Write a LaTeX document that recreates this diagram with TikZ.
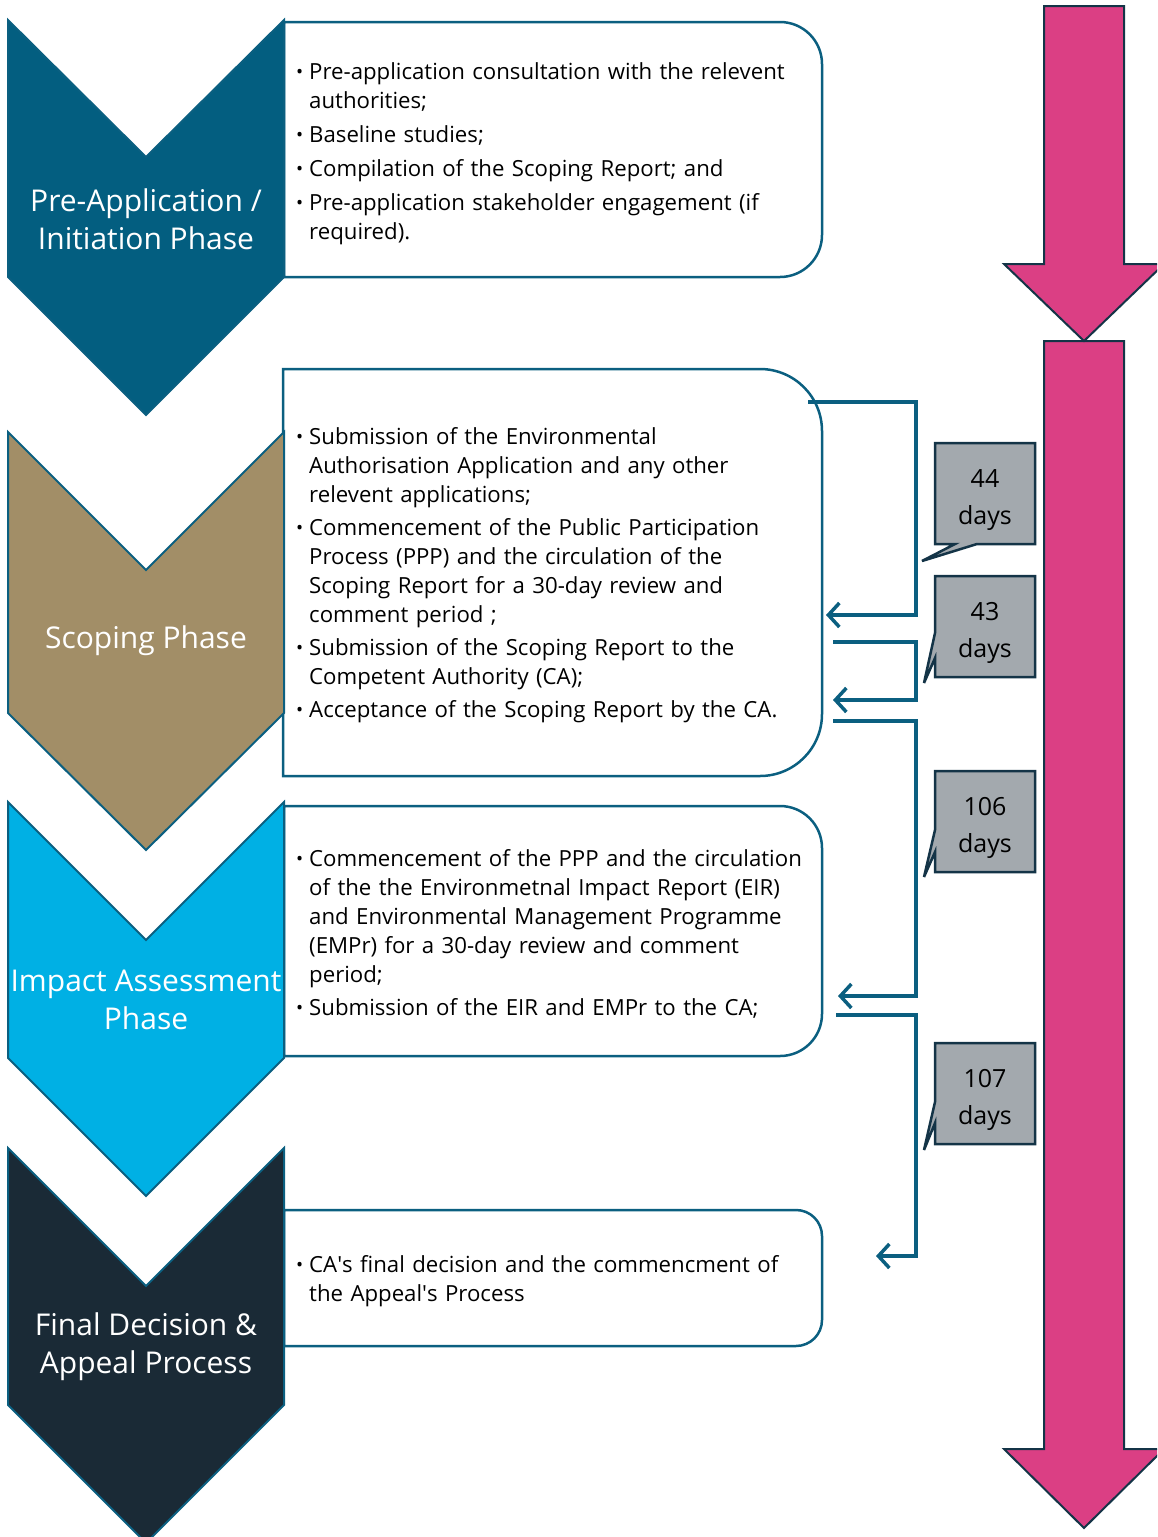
\documentclass[tikz,border=0pt]{standalone}
\usepackage{fontspec}
\setmainfont{Open Sans}
\usetikzlibrary{arrows.meta}

\definecolor{tealdark}{HTML}{035E80}
\definecolor{tanph}{HTML}{A28E67}
\definecolor{cyanph}{HTML}{00B0E4}
\definecolor{navyph}{HTML}{1A2A36}
\definecolor{edge}{HTML}{0B5F80}
\definecolor{pinkbar}{HTML}{DB3F84}
\definecolor{darkedge}{HTML}{143447}
\definecolor{callgray}{HTML}{A3A9AE}

\tikzset{
	chevron/.style  = {draw=edge, line width=2pt, line join=miter},
	phase/.style    = {text=white, align=center, inner sep=0pt,
		font=\fontsize{30}{38}\selectfont},
	stepbox/.style  = {draw=edge, line width=2.5pt},
	bullets/.style  = {anchor=north west, text width=540pt, inner sep=0pt,
		align=left, font=\fontsize{22.2}{29}\selectfont},
	link/.style     = {draw=edge, line width=3.5pt,
		-{Straight Barb[length=11pt,width=24pt,line width=3.5pt]}},
	daysbox/.style  = {fill=callgray, draw=darkedge, line width=2.5pt},
	daystext/.style = {align=center, inner sep=0pt,
		font=\fontsize{25}{37}\selectfont},
	bigarrow/.style = {fill=pinkbar, draw=darkedge, line width=2pt}
}
\newcommand{\bul}[1]{\par\noindent\hangindent=13pt\hangafter=1%
	\makebox[13pt][l]{\raisebox{1pt}{\scalebox{0.85}{\textbullet}}}#1\par}
\newcommand{\apos}{\textquotesingle}

\begin{document}
\begin{tikzpicture}[x=1pt, y=-1pt]
	
	\useasboundingbox (0,0) rectangle (1157,1537);
	\clip (0,0) rectangle (1157,1537);
	
	% timeline arrows
	\draw[bigarrow] (1044,341) -- (1124,341) -- (1124,1449) -- (1164,1449)
		-- (1084,1528) -- (1004,1449) -- (1044,1449) -- cycle;
	\draw[bigarrow] (1044,6) -- (1124,6) -- (1124,264) -- (1164,264)
		-- (1084,341) -- (1004,264) -- (1044,264) -- cycle;
	
	% boxes
	\draw[stepbox] (284,22) [rounded corners=42pt] -- (822,22) -- (822,277)
		[sharp corners] -- (284,277) -- cycle;
	\draw[stepbox] (283,369) [rounded corners=62pt] -- (822,369) -- (822,776)
		[sharp corners] -- (283,776) -- cycle;
	\draw[stepbox] (284,806) [rounded corners=42pt] -- (822,806) -- (822,1056)
		[sharp corners] -- (284,1056) -- cycle;
	\draw[stepbox] (284,1210) [rounded corners=26pt] -- (822,1210) -- (822,1346)
		[sharp corners] -- (284,1346) -- cycle;
	
	% chevrons
	\draw[chevron, fill=tealdark] (8,20) -- (146,157) -- (284,20) -- (284,277)
		-- (146,415) -- (8,277) -- cycle;
	\draw[chevron, fill=tanph] (8,432) -- (146,570) -- (284,432) -- (284,713)
		-- (146,850) -- (8,713) -- cycle;
	\draw[chevron, fill=cyanph] (8,802) -- (146,940) -- (284,802) -- (284,1058)
		-- (146,1196) -- (8,1058) -- cycle;
	\draw[chevron, fill=navyph] (8,1148) -- (146,1286) -- (284,1148) -- (284,1405)
		-- (146,1543) -- (8,1405) -- cycle;
	
	\node[phase] (pre) at (146,219) {Pre-Application /\\Initiation Phase};
	\node[phase] (scope) at (146,641) {Scoping Phase};
	\node[phase] (impact) at (146,1000) {Impact Assessment\\Phase};
	\node[phase] (final) at (146,1347) {Final Decision \&\\Appeal Process};
	
	% box texts
	\node[bullets] (pretext) at (296,45) {\setlength{\parskip}{5pt}%
		\bul{Pre-application consultation with the relevent\newline authorities;}
		\bul{Baseline studies;}
		\bul{Compilation of the Scoping Report; and}
		\bul{Pre-application stakeholder engagement (if\newline required).}};
	\node[bullets] (scopetext) at (296,411) {\setlength{\parskip}{4pt}%
		\bul{Submission of the Environmental\newline Authorisation Application and any other\newline relevent applications;}
		\bul{Commencement of the Public Participation\newline Process (PPP) and the circulation of the\newline Scoping Report for a 30-day review and\newline comment period ;}
		\bul{Submission of the Scoping Report to the\newline Competent Authority (CA);}
		\bul{Acceptance of the Scoping Report by the CA.}};
	\node[bullets] (impacttext) at (296,833) {\setlength{\parskip}{4pt}%
		\bul{Commencement of the PPP and the circulation\newline of the the Environmetnal Impact Report (EIR)\newline and Environmental Management Programme\newline (EMPr) for a 30-day review and comment\newline period;}
		\bul{Submission of the EIR and EMPr to the CA;}};
	\node[bullets] (finaltext) at (296,1243) {%
		\bul{CA\apos s final decision and the commencment of\newline the Appeal\apos s Process}};
	
	% feedback links
	\coordinate (s1) at (808,402);  \coordinate (k1) at (916,402);  \coordinate (e1) at (826,615);
	\coordinate (s2) at (833,642);  \coordinate (k2) at (916,642);  \coordinate (e2) at (833,700);
	\coordinate (s3) at (833,721);  \coordinate (k3) at (916,721);  \coordinate (e3) at (838,996);
	\coordinate (s4) at (836,1015); \coordinate (k4) at (916,1015); \coordinate (e4) at (876,1256);
	\draw[link] (s1) -- (k1) |- (e1);
	\draw[link] (s2) -- (k2) |- (e2);
	\draw[link] (s3) -- (k3) |- (e3);
	\draw[link] (s4) -- (k4) |- (e4);
	
	% day callouts
	\draw[daysbox] (935,443) -- (1035,443) -- (1035,544) -- (977,544)
		-- (922,561) -- (955,544) -- (935,544) -- cycle;
	\draw[daysbox] (935,576) -- (1035,576) -- (1035,677) -- (935,677)
		-- (935,658) -- (924,683) -- (935,633) -- cycle;
	\draw[daysbox] (935,771) -- (1035,771) -- (1035,872) -- (935,872)
		-- (935,852) -- (924,877) -- (935,830) -- cycle;
	\draw[daysbox] (935,1043) -- (1035,1043) -- (1035,1144) -- (935,1144)
		-- (935,1123) -- (924,1150) -- (935,1102) -- cycle;
	
	\node[daystext] (d44) at (985,500) {44\\days};
	\node[daystext] (d43) at (985,633) {43\\days};
	\node[daystext] (d106) at (985,828) {106\\days};
	\node[daystext] (d107) at (985,1100) {107\\days};
	
\end{tikzpicture}
\end{document}
